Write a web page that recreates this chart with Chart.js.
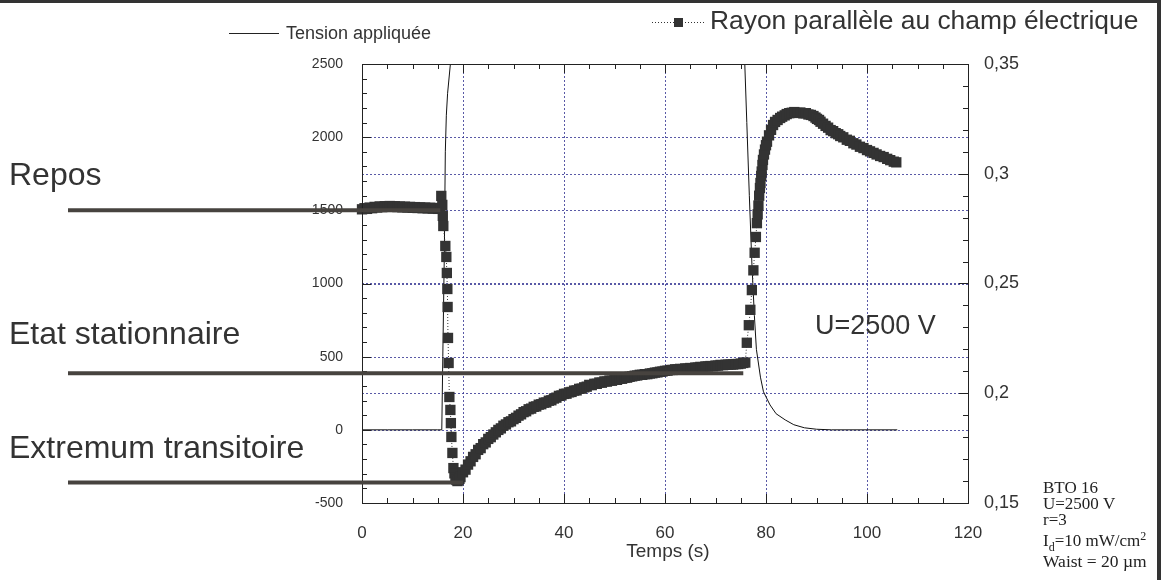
<!DOCTYPE html>
<html>
<head>
<meta charset="utf-8">
<script src="https://cdn.jsdelivr.net/npm/chart.js@4.4.1/dist/chart.umd.min.js"></script>
<style>
  html, body { margin: 0; padding: 0; background: #fff; }
  #wrap { width: 1161px; height: 580px; position: relative; }
</style>
</head>
<body>
<div id="wrap"><canvas id="c" width="1161" height="580"></canvas></div>
<script>
// ---------- DATA ----------
const tensionTime = [0, 5, 10, 15, 15.8, 16.0, 16.3, 16.5, 16.7, 16.95, 17.5, 20, 40, 60, 75.8, 76.2, 76.7, 77.2, 77.7, 78.1, 78.9, 79.5, 80.8, 82, 83.8, 85.5, 87.6, 90, 93, 100, 106];
const tensionVolt = [0, 0, 0, 0, 0, 500, 1200, 1900, 2150, 2300, 2500, 2500, 2500, 2500, 2500, 2100, 1600, 1140, 780, 550, 360, 260, 170, 110, 68, 35, 14, 4, 0, 0, 0];

const rayonTime = [
  0, 0.5, 1, 1.5, 2, 2.5, 3, 3.5, 4, 4.5, 5, 5.5, 6, 6.5, 7, 7.5, 8, 8.5, 9, 9.5, 10, 10.5, 11, 11.5, 12, 12.5, 13, 13.5, 14, 14.5, 15, 15.5,
  15.7, 15.9, 16.0, 16.1, 16.5, 16.7, 16.8, 16.9, 16.95, 17.03, 17.15, 17.3, 17.5, 17.6, 17.7, 17.9, 18.1, 18.3, 18.5, 18.7, 18.9, 19.1, 19.3,
  19.5, 20, 20.5, 21, 21.5, 22, 22.5, 23, 23.5, 24, 24.5, 25, 25.5, 26, 26.5, 27, 27.5, 28, 28.5, 29, 29.5, 30, 30.5, 31, 31.5, 32, 32.5, 33, 33.5, 34, 34.5, 35, 35.5, 36, 36.5, 37, 37.5, 38, 38.5, 39, 39.5,
  40, 40.5, 41, 41.5, 42, 42.5, 43, 43.5, 44, 44.5, 45, 45.5, 46, 46.5, 47, 47.5, 48, 48.5, 49, 49.5, 50, 50.5, 51, 51.5, 52, 52.5, 53, 53.5, 54, 54.5, 55, 55.5, 56, 56.5, 57, 57.5, 58, 58.5, 59, 59.5,
  60, 60.5, 61, 61.5, 62, 62.5, 63, 63.5, 64, 64.5, 65, 65.5, 66, 66.5, 67, 67.5, 68, 68.5, 69, 69.5, 70, 70.5, 71, 71.5, 72, 72.5, 73, 73.5, 74, 74.5, 75, 75.5,
  75.9, 76.2, 76.6, 76.9, 77.2, 77.5, 77.75, 78.0, 78.2, 78.35, 78.5, 78.65, 78.8, 78.9, 79.05, 79.15, 79.3, 79.4, 79.6, 79.8, 80.0, 80.2, 80.6, 81, 81.4, 81.8, 82.3, 82.8, 83.2, 83.7, 84.1, 84.6, 85.1, 85.6, 86.2, 86.8, 87.4, 87.9, 88.4, 88.9, 89.4, 89.8,
  90.1, 90.5, 90.8, 91.3, 91.8, 92.3, 92.8, 93.3, 93.8, 94.3, 94.7, 95.3, 96, 96.6, 97.3, 97.9, 98.6, 99.3, 100, 100.6, 101.3, 101.9, 102.6, 103.3, 104, 104.6, 105.3, 105.8];
const rayonValue = [
  0.2838, 0.2843, 0.2840, 0.2846, 0.2843, 0.2849, 0.2846, 0.2851, 0.2848, 0.2852, 0.2849, 0.2853, 0.2850, 0.2852, 0.2848, 0.2851, 0.2847, 0.2850, 0.2846, 0.2849, 0.2845, 0.2848, 0.2844, 0.2847, 0.2843, 0.2846, 0.2842, 0.2845, 0.2841, 0.2844, 0.2840, 0.2843,
  0.2899, 0.2858, 0.2808, 0.2762, 0.2671, 0.2621, 0.2548, 0.2475, 0.2393, 0.2252, 0.2138, 0.1983, 0.1924, 0.1864, 0.1801, 0.1728, 0.1659, 0.1635, 0.1614, 0.1605, 0.1600, 0.1603, 0.1610,
  0.1618, 0.1640, 0.1652, 0.1675, 0.1690, 0.1710, 0.1722, 0.1742, 0.1750, 0.1768, 0.1776, 0.1792, 0.1800, 0.1812, 0.1822, 0.1833, 0.1840, 0.1852, 0.1858, 0.1868, 0.1872, 0.1882, 0.1888, 0.1898, 0.1904, 0.1914, 0.1918, 0.1927, 0.1930, 0.1938, 0.1940, 0.1948, 0.1950, 0.1957, 0.1958, 0.1966, 0.1968, 0.1976, 0.1980, 0.1988, 0.1990,
  0.1997, 0.1998, 0.2004, 0.2006, 0.2012, 0.2013, 0.2020, 0.2021, 0.2027, 0.2030, 0.2038, 0.2037, 0.2043, 0.2043, 0.2049, 0.2048, 0.2054, 0.2053, 0.2058, 0.2057, 0.2062, 0.2061, 0.2066, 0.2066, 0.2070, 0.2071, 0.2075, 0.2077, 0.2080, 0.2081, 0.2084, 0.2084, 0.2087, 0.2087, 0.2090, 0.2091, 0.2094, 0.2095, 0.2098, 0.2099,
  0.2102, 0.2103, 0.2106, 0.2106, 0.2109, 0.2109, 0.2111, 0.2110, 0.2113, 0.2112, 0.2115, 0.2114, 0.2117, 0.2117, 0.2120, 0.2119, 0.2122, 0.2122, 0.2124, 0.2123, 0.2126, 0.2126, 0.2129, 0.2128, 0.2130, 0.2130, 0.2131, 0.2131, 0.2133, 0.2133, 0.2135, 0.2138,
  0.2140, 0.2230, 0.2310, 0.2380, 0.2470, 0.2560, 0.2640, 0.2712, 0.2775, 0.2815, 0.2855, 0.2900, 0.2935, 0.2958, 0.2990, 0.3010, 0.3040, 0.3063, 0.3088, 0.3110, 0.3130, 0.3146, 0.3175, 0.3200, 0.3222, 0.3236, 0.3245, 0.3254, 0.3260, 0.3266, 0.3272, 0.3276, 0.3278, 0.3281, 0.3277, 0.3279, 0.3275, 0.3276, 0.3270, 0.3268, 0.3263, 0.3256,
  0.3250, 0.3245, 0.3237, 0.3228, 0.3218, 0.3210, 0.3199, 0.3194, 0.3185, 0.3180, 0.3172, 0.3166, 0.3155, 0.3150, 0.3139, 0.3133, 0.3123, 0.3117, 0.3108, 0.3102, 0.3095, 0.3088, 0.3081, 0.3076, 0.3068, 0.3062, 0.3055, 0.3052];

const levelNames  = ['Repos', 'Etat stationnaire', 'Extremum transitoire'];
const levelValues = [1500, 387, -360];   // left axis (V)
const levelEndTime = [15.5, 75.5, 20];

const xTicks = [0, 20, 40, 60, 80, 100, 120];
const yLeftTicks = [-500, 0, 500, 1000, 1500, 2000, 2500];
const yRightTicks = [0.15, 0.2, 0.25, 0.3, 0.35];

const seriesNames = ['Tension appliquée', 'Rayon parallèle au champ électrique'];
const infoLines = ['BTO 16', 'U=2500 V', 'r=3'];
const annotationText = 'U=2500 V';
const xTitle = 'Temps (s)';

// ---------- CHART ----------
const SANS = '"Liberation Sans", Arial, Helvetica, sans-serif';
const SERIF = '"Liberation Serif", "Times New Roman", serif';
const INK = '#333333';
const GRID = 'rgba(60,60,150,0.85)';

const tensionData = tensionTime.map((t, i) => ({ x: t, y: tensionVolt[i] }));
const rayonData = rayonTime.map((t, i) => ({ x: t, y: rayonValue[i] }));

function fmtComma(v) { return String(+(+v).toFixed(2)).replace('.', ','); }

const decor = {
  id: 'decor',
  beforeDatasetsDraw(chart) {
    const { ctx, chartArea: a, scales } = chart;
    const x = scales.x, y = scales.y, y1 = scales.y1;
    ctx.save();
    ctx.strokeStyle = GRID;
    ctx.lineWidth = 1;
    ctx.setLineDash([2, 2]);
    xTicks.forEach(v => {
      if (v === x.min || v === x.max) return;
      const px = Math.round(x.getPixelForValue(v)) + 0.5;
      ctx.beginPath(); ctx.moveTo(px, a.top); ctx.lineTo(px, a.bottom); ctx.stroke();
    });
    yLeftTicks.forEach(v => {
      if (v === y.min || v === y.max) return;
      const py = Math.round(y.getPixelForValue(v)) + 0.5;
      ctx.beginPath(); ctx.moveTo(a.left, py); ctx.lineTo(a.right, py); ctx.stroke();
    });
    yRightTicks.forEach(v => {
      if (Math.abs(v - y1.min) < 1e-9 || Math.abs(v - y1.max) < 1e-9) return;
      const py = Math.round(y1.getPixelForValue(v)) + 0.5;
      ctx.beginPath(); ctx.moveTo(a.left, py); ctx.lineTo(a.right, py); ctx.stroke();
    });
    ctx.restore();
  },
  afterDatasetsDraw(chart) {
    const { ctx, chartArea: a, scales } = chart;
    const x = scales.x, y = scales.y, y1 = scales.y1;
    ctx.save();
    // frame
    ctx.strokeStyle = '#222';
    ctx.lineWidth = 1;
    ctx.strokeRect(Math.round(a.left) + 0.5, Math.round(a.top) + 0.5, Math.round(a.right - a.left), Math.round(a.bottom - a.top));
    // ticks
    ctx.beginPath();
    for (let i = 0; i <= 24; i++) {
      const t = i * 5;
      const px = Math.round(x.getPixelForValue(t)) + 0.5;
      const len = (t % 20 === 0) ? 9 : 5;
      ctx.moveTo(px, a.bottom); ctx.lineTo(px, a.bottom - len);
      ctx.moveTo(px, a.top); ctx.lineTo(px, a.top + len);
    }
    for (let i = -5; i <= 25; i++) {
      const v = i * 100;
      const py = Math.round(y.getPixelForValue(v)) + 0.5;
      const len = (v % 500 === 0) ? 9 : 5;
      ctx.moveTo(a.left, py); ctx.lineTo(a.left + len, py);
    }
    for (let i = 15; i <= 35; i++) {
      const v = i / 100;
      const py = Math.round(y1.getPixelForValue(v)) + 0.5;
      const len = (i % 5 === 0) ? 9 : 5;
      ctx.moveTo(a.right, py); ctx.lineTo(a.right - len, py);
    }
    ctx.stroke();

    // level lines
    ctx.strokeStyle = '#47433f';
    ctx.lineWidth = 4;
    levelValues.forEach((v, i) => {
      const py = y.getPixelForValue(v);
      ctx.beginPath(); ctx.moveTo(68, py); ctx.lineTo(x.getPixelForValue(levelEndTime[i]), py); ctx.stroke();
    });

    // texts
    ctx.fillStyle = INK;
    ctx.textBaseline = 'middle';
    ctx.textAlign = 'left';
    ctx.font = '32px ' + SANS;
    ctx.fillText(levelNames[0], 9, 176);
    ctx.fillText(levelNames[1], 9, 335);
    ctx.fillText(levelNames[2], 9, 449);
    ctx.font = '27px ' + SANS;
    ctx.fillText(annotationText, 815, 327);

    ctx.textAlign = 'center';
    ctx.font = '19px ' + SANS;
    ctx.fillText(xTitle, 668, 552);

    // legend 1
    ctx.textAlign = 'left';
    ctx.strokeStyle = '#222';
    ctx.lineWidth = 1;
    ctx.setLineDash([]);
    ctx.beginPath(); ctx.moveTo(229, 33.5); ctx.lineTo(279, 33.5); ctx.stroke();
    ctx.font = '18px ' + SANS;
    ctx.fillText(seriesNames[0], 286, 34);
    // legend 2
    ctx.setLineDash([1, 2]);
    ctx.strokeStyle = '#333';
    ctx.beginPath(); ctx.moveTo(652, 22.5); ctx.lineTo(706, 22.5); ctx.stroke();
    ctx.setLineDash([]);
    ctx.fillRect(674, 18, 9, 9);
    ctx.font = '26.4px ' + SANS;
    ctx.fillText(seriesNames[1], 710, 22);

    // info block (serif)
    ctx.font = '17px ' + SERIF;
    ctx.fillStyle = '#222';
    ctx.textBaseline = 'alphabetic';
    ctx.fillText(infoLines[0], 1043, 493);
    ctx.fillText(infoLines[1], 1043, 509);
    ctx.fillText(infoLines[2], 1043, 525);
    // I_d=10 mW/cm^2
    let xx = 1043;
    ctx.fillText('I', xx, 546); xx += ctx.measureText('I').width;
    ctx.font = '12px ' + SERIF;
    ctx.fillText('d', xx, 551); xx += ctx.measureText('d').width;
    ctx.font = '17px ' + SERIF;
    const s2 = '=10 mW/cm';
    ctx.fillText(s2, xx, 546); xx += ctx.measureText(s2).width;
    ctx.font = '12px ' + SERIF;
    ctx.fillText('2', xx, 540);
    ctx.font = '17.5px ' + SERIF;
    ctx.fillText('Waist = 20 \u00b5m', 1043, 567);

    // outer border (top and right)
    ctx.fillStyle = '#333';
    ctx.fillRect(0, 0, 1161, 3);
    ctx.fillRect(1157, 0, 4, 580);
    ctx.restore();
  }
};

new Chart(document.getElementById('c'), {
  type: 'line',
  data: {
    datasets: [
      {
        label: seriesNames[1],
        data: rayonData,
        yAxisID: 'y1',
        showLine: true,
        borderColor: '#333',
        borderWidth: 1,
        borderDash: [1, 2],
        pointStyle: 'rect',
        pointRadius: 7.3,
        pointBorderWidth: 0,
        pointBackgroundColor: '#333',
        backgroundColor: '#333',
        tension: 0,
        clip: 8
      },
      {
        label: seriesNames[0],
        data: tensionData,
        yAxisID: 'y',
        borderColor: '#111',
        borderWidth: 1,
        pointRadius: 0,
        tension: 0
      }
    ]
  },
  options: {
    responsive: false,
    animation: false,
    events: [],
    layout: { padding: { top: 64, left: 0, right: 0, bottom: 0 } },
    plugins: { legend: { display: false }, tooltip: { enabled: false } },
    scales: {
      x: {
        type: 'linear', min: 0, max: 120,
        afterBuildTicks: s => { s.ticks = xTicks.map(v => ({ value: v })); },
        afterFit: s => { s.height = 77; },
        grid: { display: false, drawTicks: false },
        border: { display: false },
        ticks: { padding: 20, color: INK, font: { family: SANS, size: 17 }, maxRotation: 0, callback: v => String(v) }
      },
      y: {
        type: 'linear', position: 'left', min: -500, max: 2500,
        afterBuildTicks: s => { s.ticks = yLeftTicks.map(v => ({ value: v })); },
        afterFit: s => { s.width = 362; },
        grid: { display: false, drawTicks: false },
        border: { display: false },
        ticks: { padding: 19, color: INK, font: { family: SANS, size: 14 }, callback: v => String(v) }
      },
      y1: {
        type: 'linear', position: 'right', min: 0.15, max: 0.35,
        afterBuildTicks: s => { s.ticks = yRightTicks.map(v => ({ value: v })); },
        afterFit: s => { s.width = 193; },
        grid: { display: false, drawTicks: false },
        border: { display: false },
        ticks: { padding: 16, color: INK, font: { family: SANS, size: 18 }, callback: v => fmtComma(v) }
      }
    }
  },
  plugins: [decor]
});
</script>
</body>
</html>
